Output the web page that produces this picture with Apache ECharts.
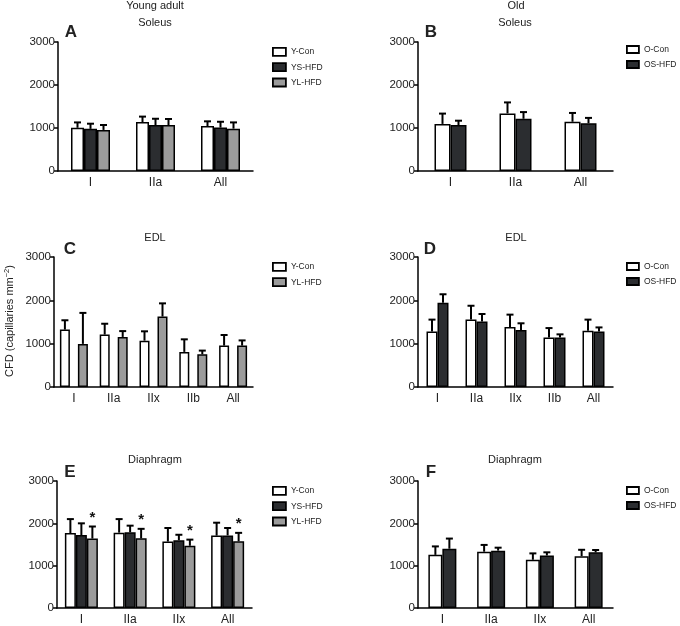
<!DOCTYPE html>
<html><head><meta charset="utf-8">
<script src="https://cdn.jsdelivr.net/npm/echarts@6/dist/echarts.min.js"></script>
<style>html,body{margin:0;padding:0;background:#fff}#c{width:680px;height:626px}</style>
</head><body><div id="c"></div>
<script>
// ---- data ----
const catsA = ['I', 'IIa', 'All'];
const A_YCon = [1005, 1140, 1045], A_YCon_err = [1130, 1265, 1155];
const A_YS   = [980, 1070, 1010],  A_YS_err   = [1100, 1215, 1145];
const A_YL   = [955, 1070, 985],   A_YL_err   = [1070, 1210, 1130];

const catsB = ['I', 'IIa', 'All'];
const B_OCon = [1095, 1340, 1145], B_OCon_err = [1335, 1595, 1350];
const B_OS   = [1070, 1215, 1110], B_OS_err   = [1170, 1370, 1235];

const catsC = ['I', 'IIa', 'IIx', 'IIb', 'All'];
const C_YCon = [1325, 1210, 1070, 810, 955], C_YCon_err = [1540, 1460, 1285, 1100, 1200];
const C_YL   = [995, 1155, 1625, 755, 955],  C_YL_err   = [1710, 1290, 1930, 840, 1075];

const catsD = ['I', 'IIa', 'IIx', 'IIb', 'All'];
const D_OCon = [1280, 1560, 1385, 1140, 1300], D_OCon_err = [1555, 1875, 1670, 1360, 1555];
const D_OS   = [1945, 1510, 1315, 1140, 1280], D_OS_err   = [2140, 1685, 1470, 1215, 1375];

const catsE = ['I', 'IIa', 'IIx', 'All'];
const E_YCon = [1770, 1780, 1570, 1710], E_YCon_err = [2100, 2100, 1890, 2015];
const E_YS   = [1725, 1790, 1600, 1715], E_YS_err   = [2000, 1945, 1730, 1890];
const E_YL   = [1640, 1645, 1470, 1575], E_YL_err   = [1925, 1870, 1615, 1775];
const E_YL_star = [1, 1, 1, 1];

const catsF = ['I', 'IIa', 'IIx', 'All'];
const F_OCon = [1255, 1330, 1140, 1225], F_OCon_err = [1455, 1490, 1290, 1375];
const F_OS   = [1400, 1355, 1240, 1315], F_OS_err   = [1640, 1425, 1315, 1370];

const yTicks = [0, 1000, 2000, 3000];

// ---- styles ----
const COL = {'Y-Con': '#ffffff', 'YS-HFD': '#2b2d30', 'YL-HFD': '#9b9b9b', 'O-Con': '#ffffff', 'OS-HFD': '#2b2d30'};
const FONT = 'Liberation Sans, Arial, sans-serif';

const LEG_L = {iw: 13, ih: 8, gap: 5.5, tg: 8};
const LEG_R = {iw: 12, ih: 7, gap: 6, tg: 6};

const panels = [
  {cats: catsA, grid: {left: 58, top: 42, width: 195, height: 129}, bw: 13, gap: 0,
   series: [['Y-Con', A_YCon, A_YCon_err], ['YS-HFD', A_YS, A_YS_err], ['YL-HFD', A_YL, A_YL_err]],
   legend: {left: 272, top: 47, s: LEG_L}},
  {cats: catsB, grid: {left: 418, top: 42, width: 195, height: 129}, bw: 16, gap: 0,
   series: [['O-Con', B_OCon, B_OCon_err], ['OS-HFD', B_OS, B_OS_err]],
   legend: {left: 626, top: 45, s: LEG_R}},
  {cats: catsC, grid: {left: 54, top: 257, width: 199, height: 130}, bw: 10, gap: 0.8,
   series: [['Y-Con', C_YCon, C_YCon_err], ['YL-HFD', C_YL, C_YL_err]],
   legend: {left: 272, top: 262, s: LEG_L}},
  {cats: catsD, grid: {left: 418, top: 257, width: 195, height: 130}, bw: 11, gap: 0,
   series: [['O-Con', D_OCon, D_OCon_err], ['OS-HFD', D_OS, D_OS_err]],
   legend: {left: 626, top: 262, s: LEG_R}},
  {cats: catsE, grid: {left: 57, top: 481, width: 195, height: 130}, bw: 11, gap: 0,
   series: [['Y-Con', E_YCon, E_YCon_err], ['YS-HFD', E_YS, E_YS_err], ['YL-HFD', E_YL, E_YL_err, E_YL_star]],
   legend: {left: 272, top: 486, s: LEG_L}},
  {cats: catsF, grid: {left: 418, top: 481, width: 195, height: 130}, bw: 14, gap: 0,
   series: [['O-Con', F_OCon, F_OCon_err], ['OS-HFD', F_OS, F_OS_err]],
   legend: {left: 626, top: 486, s: LEG_R}}
];

const option = {
  animation: false,
  backgroundColor: '#fff',
  grid: [], xAxis: [], yAxis: [], series: [], legend: [],
  graphic: []
};

panels.forEach((p, gi) => {
  option.grid.push(Object.assign({containLabel: false}, p.grid));
  option.xAxis.push({
    type: 'category', gridIndex: gi, data: p.cats,
    axisLine: {lineStyle: {color: '#000', width: 1.5}},
    axisTick: {show: false},
    axisLabel: {color: '#222', fontSize: 12, fontFamily: FONT, margin: 6}
  });
  option.yAxis.push({
    type: 'value', gridIndex: gi, min: 0, max: 3000, interval: 1000,
    splitLine: {show: false},
    axisLine: {show: true, lineStyle: {color: '#000', width: 1.5}},
    axisTick: {show: true, length: 4, lineStyle: {color: '#000', width: 1.5}},
    axisLabel: {color: '#222', fontSize: 11.5, fontFamily: FONT, margin: 3,
      formatter: v => yTicks.indexOf(v) >= 0 ? String(v) : ''}
  });
  const n = p.series.length;
  const total = n * p.bw + (n - 1) * p.gap * p.bw;
  p.series.forEach((s, si) => {
    const [name, vals, errs, stars] = s;
    option.series.push({
      type: 'bar', name: name, xAxisIndex: gi, yAxisIndex: gi,
      data: vals, barWidth: p.bw, barGap: (p.gap * 100) + '%',
      itemStyle: {color: COL[name], borderColor: '#000', borderWidth: 1.5},
      emphasis: {disabled: true}
    });
    const off = -total / 2 + p.bw / 2 + si * p.bw * (1 + p.gap);
    option.series.push({
      type: 'custom', name: name + '_err', xAxisIndex: gi, yAxisIndex: gi,
      data: vals.map((v, i) => [i, v, errs[i], stars ? stars[i] : 0]),
      z: 1,
      renderItem: function (params, api) {
        const i = api.value(0);
        const b = api.coord([i, api.value(1)]);
        const t = api.coord([i, api.value(2)]);
        const x = b[0] + off;
        const h = 3.5;
        const children = [
          {type: 'line', shape: {x1: x, y1: b[1], x2: x, y2: t[1]}, style: {stroke: '#000', lineWidth: 2}},
          {type: 'line', shape: {x1: x - h, y1: t[1], x2: x + h, y2: t[1]}, style: {stroke: '#000', lineWidth: 2}}
        ];
        if (api.value(3)) {
          children.push({type: 'text', x: x, y: t[1] - 1,
            style: {text: '*', fill: '#111', font: 'bold 15px ' + FONT, textAlign: 'center', textVerticalAlign: 'bottom'}});
        }
        return {type: 'group', children: children};
      }
    });
  });
  const L = p.legend.s;
  option.legend.push({
    left: p.legend.left, top: p.legend.top, orient: 'vertical',
    data: p.series.map(s => s[0]), selectedMode: false,
    itemWidth: L.iw, itemHeight: L.ih, itemGap: L.gap, itemTextGap: L.tg, icon: 'rect',
    itemStyle: {borderColor: '#000', borderWidth: 1.8},
    textStyle: {fontSize: 8.5, color: '#222', fontFamily: FONT},
    padding: 0
  });
});

function txt(x, y, s, font, extra) {
  return Object.assign({type: 'text', x: x, y: y, silent: true,
    style: {text: s, font: font, fill: '#222', textAlign: 'center', textVerticalAlign: 'middle'}}, extra || {});
}
const tf = '11px ' + FONT, lf = 'bold 17px ' + FONT;
option.graphic = [
  txt(155, 6, 'Young adult', tf), txt(155, 23, 'Soleus', tf),
  txt(516, 6, 'Old', tf), txt(515, 23, 'Soleus', tf),
  txt(155, 238, 'EDL', tf), txt(516, 238, 'EDL', tf),
  txt(155, 460, 'Diaphragm', tf), txt(515, 460, 'Diaphragm', tf),
  txt(71, 32, 'A', lf), txt(431, 32, 'B', lf),
  txt(70, 249, 'C', lf), txt(430, 249, 'D', lf),
  txt(70, 472, 'E', lf), txt(431, 472, 'F', lf),
  {type: 'text', x: 10, y: 321, rotation: Math.PI / 2, silent: true,
   style: {text: 'CFD (capillaries mm{s|−2})', font: '11px ' + FONT, fill: '#222',
     textAlign: 'center', textVerticalAlign: 'middle',
     rich: {s: {fontSize: 7.5, fontFamily: FONT, fill: '#222', verticalAlign: 'top', padding: [0, 0, 6, 0]}}}}
];

const chart = echarts.init(document.getElementById('c'), null, {renderer: 'canvas'});
chart.setOption(option);
</script>
</body></html>
